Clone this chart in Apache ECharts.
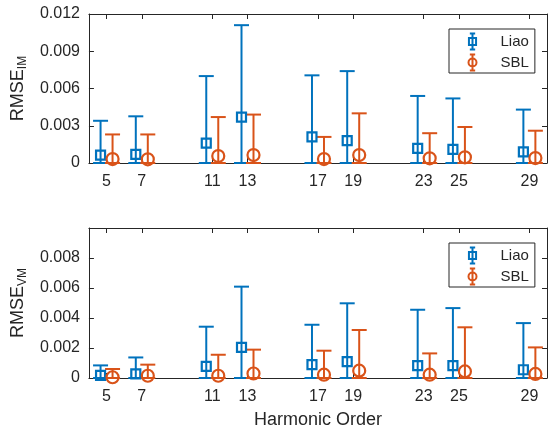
<!DOCTYPE html>
<html lang="en" style="height: 100%">
<head>
  <meta charset="utf-8">
</head>
<body style="height: 100%; margin: 0">
  <div id="container" style="width: 548px; height: 431px"></div>

  <script type="text/javascript" src="https://fastly.jsdelivr.net/npm/echarts@6/dist/echarts.min.js"></script>

  <script type="text/javascript">
    var harmonics = [5, 7, 11, 13, 17, 19, 23, 25, 29];

    // current RMSE (upper panel): mean and top of the error bar
    var liaoIM = [0.00064, 0.0007, 0.0016, 0.0037, 0.0021, 0.0018, 0.00118, 0.0011, 0.00089];
    var liaoIMUpper = [0.0034, 0.00376, 0.007, 0.0111, 0.00706, 0.0074, 0.0054, 0.0052, 0.0043];
    var sblIM = [0.00032, 0.0003, 0.00056, 0.00064, 0.00032, 0.00064, 0.00038, 0.00046, 0.0004];
    var sblIMUpper = [0.0023, 0.0023, 0.0037, 0.0039, 0.0021, 0.004, 0.0024, 0.0029, 0.0026];

    // voltage RMSE (lower panel)
    var liaoVM = [0.00017, 0.00027, 0.00078, 0.00204, 0.00089, 0.00109, 0.00082, 0.00082, 0.00055];
    var liaoVMUpper = [0.00084, 0.00137, 0.00342, 0.00609, 0.00355, 0.00498, 0.00455, 0.00466, 0.00366];
    var sblVM = [0.00005, 0.00015, 0.00015, 0.0003, 0.00022, 0.00049, 0.00022, 0.00044, 0.00027];
    var sblVMUpper = [0.0006, 0.00089, 0.00155, 0.00189, 0.00182, 0.0032, 0.00164, 0.00338, 0.00204];

    // error bars are cut at zero
    var lowerBound = 0;

    var BLUE = '#0072BD';
    var ORANGE = '#D95319';
    var AXIS = '#262626';
    var FONT = '"Liberation Sans", Arial, sans-serif';

    var dom = document.getElementById('container');
    var myChart = echarts.init(dom, null, { renderer: 'canvas' });

    function xAxisFor(grid, position, showLabels) {
      return {
        type: 'value',
        gridIndex: grid,
        position: position,
        min: 4,
        max: 30,
        axisLine: { show: true, onZero: false, lineStyle: { color: AXIS, width: 1 } },
        axisTick: { show: true, inside: true, length: 5, customValues: harmonics, lineStyle: { color: AXIS } },
        axisLabel: {
          show: showLabels, customValues: harmonics, color: AXIS,
          fontSize: 16, fontFamily: FONT, margin: 11
        },
        splitLine: { show: false }
      };
    }

    function yAxisFor(grid, position, max, step, name) {
      return {
        type: 'value',
        gridIndex: grid,
        position: position,
        min: 0,
        max: max,
        interval: step,
        name: name,
        nameLocation: 'middle',
        nameGap: 56,
        nameRotate: 90,
        nameTextStyle: {
          color: AXIS, fontFamily: FONT,
          rich: {
            m: { fontSize: 18, fontFamily: FONT, color: AXIS, lineHeight: 22 },
            s: { fontSize: 12, fontFamily: FONT, color: AXIS, lineHeight: 22, padding: [9, 0, 0, 0] }
          }
        },
        axisLine: { show: true, lineStyle: { color: AXIS, width: 1 } },
        axisTick: { show: true, inside: true, length: 5, lineStyle: { color: AXIS } },
        axisLabel: {
          show: position === 'left',
          color: AXIS, fontSize: 16, fontFamily: FONT, margin: 9,
          formatter: function (v) {
            if (v > 0.0095 && max === 0.01) return '';
            return String(parseFloat(v.toFixed(3)));
          }
        },
        splitLine: { show: false }
      };
    }

    function errorBars(dx) {
      return function (params, api) {
        var lo = api.coord([api.value(0), api.value(1)]);
        var hi = api.coord([api.value(0), api.value(2)]);
        var x = lo[0] + dx;
        var hw = 7.5;
        var style = { stroke: api.visual('color'), lineWidth: 2, fill: null };
        return {
          type: 'group',
          children: [
            { type: 'line', shape: { x1: x, y1: lo[1], x2: x, y2: hi[1] }, style: style },
            { type: 'line', shape: { x1: x - hw, y1: hi[1], x2: x + hw, y2: hi[1] }, style: style },
            { type: 'line', shape: { x1: x - hw, y1: lo[1], x2: x + hw, y2: lo[1] }, style: style }
          ]
        };
      };
    }

    function barSeries(name, color, grid, upper, dx) {
      return {
        name: name,
        type: 'custom',
        xAxisIndex: grid * 2,
        yAxisIndex: grid * 2,
        itemStyle: { color: color },
        renderItem: errorBars(dx),
        encode: { x: 0, y: [1, 2] },
        data: harmonics.map(function (h, i) { return [h, lowerBound, upper[i]]; }),
        silent: true
      };
    }

    function markerSeries(name, color, grid, means, symbol, size, dx) {
      return {
        name: name,
        type: 'scatter',
        xAxisIndex: grid * 2,
        yAxisIndex: grid * 2,
        symbol: symbol,
        symbolSize: size,
        symbolOffset: [dx, 0],
        itemStyle: { color: 'rgba(0,0,0,0)', borderColor: color, borderWidth: 2.2, opacity: 1 },
        emphasis: { disabled: true },
        data: harmonics.map(function (h, i) { return [h, means[i]]; }),
        silent: true
      };
    }

    var liaoIcon = 'path://M2,0 L8,0 M5,0 L5,18 M2,18 L8,18 M1,5 L9,5 L9,13 L1,13 Z';
    var sblIcon = 'path://M2,0 L8,0 M5,0 L5,18 M2,18 L8,18 M0.5,9 A4.5,4.5 0 1,1 9.5,9 A4.5,4.5 0 1,1 0.5,9 Z';

    function legendFor(top) {
      return {
        left: 449,
        top: top,
        orient: 'vertical',
        padding: [2, 6, 0, 17],
        itemGap: 0,
        itemWidth: 14,
        itemHeight: 16,
        symbolKeepAspect: true,
        borderColor: AXIS,
        borderWidth: 1,
        borderRadius: 0,
        backgroundColor: '#fff',
        selectedMode: false,
        textStyle: { fontSize: 15, lineHeight: 16, color: AXIS, fontFamily: FONT, padding: [0, 0, 0, 16] },
        data: [
          { name: 'Liao', icon: liaoIcon, itemStyle: { color: 'none', borderColor: BLUE, borderWidth: 2 } },
          { name: 'SBL', icon: sblIcon, itemStyle: { color: 'none', borderColor: ORANGE, borderWidth: 2 } }
        ]
      };
    }

    var option = {
      backgroundColor: '#fff',
      animation: false,
      textStyle: { fontFamily: FONT },
      grid: [
        { left: 87, right: 1, top: 14, height: 149 },
        { left: 87, right: 1, top: 228, height: 150 }
      ],
      legend: [legendFor(29), legendFor(243)],
      xAxis: [
        xAxisFor(0, 'bottom', true),
        xAxisFor(0, 'top', false),
        Object.assign(xAxisFor(1, 'bottom', true), {
          name: 'Harmonic Order',
          nameLocation: 'middle',
          nameGap: 33,
          nameTextStyle: { fontSize: 18, color: AXIS, fontFamily: FONT }
        }),
        xAxisFor(1, 'top', false)
      ],
      yAxis: [
        yAxisFor(0, 'left', 0.012, 0.003, '{m|RMSE}{s|IM}'),
        yAxisFor(0, 'right', 0.012, 0.003, ''),
        yAxisFor(1, 'left', 0.01, 0.002, '{m|RMSE}{s|VM}'),
        yAxisFor(1, 'right', 0.01, 0.002, '')
      ],
      series: [
        barSeries('Liao', BLUE, 0, liaoIMUpper, -6),
        markerSeries('Liao', BLUE, 0, liaoIM, 'rect', 9, -6),
        barSeries('SBL', ORANGE, 0, sblIMUpper, 6),
        markerSeries('SBL', ORANGE, 0, sblIM, 'circle', 12, 6),
        barSeries('Liao', BLUE, 1, liaoVMUpper, -6),
        markerSeries('Liao', BLUE, 1, liaoVM, 'rect', 9, -6),
        barSeries('SBL', ORANGE, 1, sblVMUpper, 6),
        markerSeries('SBL', ORANGE, 1, sblVM, 'circle', 12, 6)
      ]
    };

    myChart.setOption(option);

    window.addEventListener('resize', myChart.resize);
  </script>
</body>
</html>
